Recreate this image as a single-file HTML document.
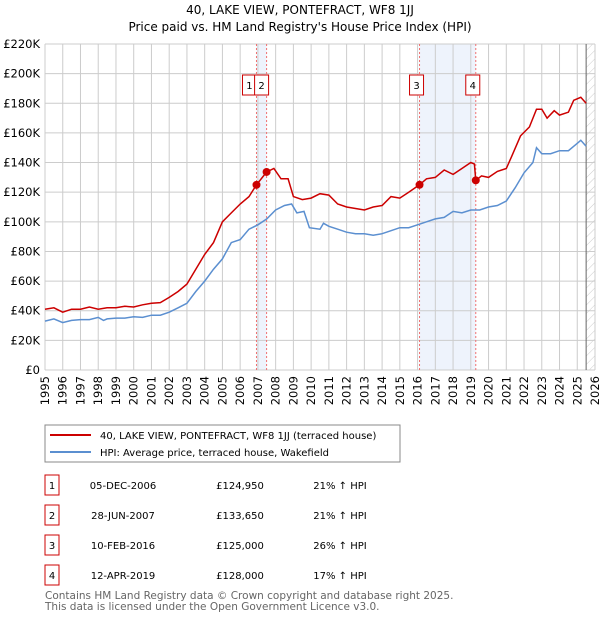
<!DOCTYPE html>
<html><head><meta charset="utf-8"><style>
body{margin:0;background:#fff;width:600px;height:620px;overflow:hidden}
svg{font-family:"DejaVu Sans","Liberation Sans",sans-serif}
</style></head><body>
<svg id="c" width="600" height="620" xmlns="http://www.w3.org/2000/svg">
<defs><pattern id="hatch" width="6" height="6" patternUnits="userSpaceOnUse" patternTransform="rotate(45)"><line x1="0" y1="0" x2="0" y2="6" stroke="#ccc" stroke-width="1"/></pattern></defs>
<text x="300" y="14" text-anchor="middle" font-size="12">40, LAKE VIEW, PONTEFRACT, WF8 1JJ</text>
<text x="300" y="31" text-anchor="middle" font-size="12">Price paid vs. HM Land Registry's House Price Index (HPI)</text>
<g id="grid"></g><g id="marks"></g><g id="axes"></g>
<rect x="45" y="425" width="355" height="37" fill="#fff" stroke="#888"/>
<line x1="50" y1="435" x2="91" y2="435" stroke="#cc0000" stroke-width="2"/>
<text x="100" y="439" font-size="10">40, LAKE VIEW, PONTEFRACT, WF8 1JJ (terraced house)</text>
<line x1="50" y1="452" x2="91" y2="452" stroke="#5b8fd0" stroke-width="2"/>
<text x="100" y="456" font-size="10">HPI: Average price, terraced house, Wakefield</text>
<g id="table" font-size="10"></g>
<text x="45" y="599" font-size="10.5" fill="#666">Contains HM Land Registry data © Crown copyright and database right 2025.</text>
<text x="45" y="610" font-size="10.5" fill="#666">This data is licensed under the Open Government Licence v3.0.</text>
</svg>
<script>
const hpiYears=[1995,1995.5,1996,1996.5,1997,1997.5,1998,1998.3,1998.5,1999,1999.5,2000,2000.5,2001,2001.5,2002,2002.5,2003,2003.5,2004,2004.5,2005,2005.5,2006,2006.5,2007,2007.5,2008,2008.5,2008.9,2009.2,2009.6,2009.9,2010.5,2010.7,2011,2011.5,2012,2012.5,2013,2013.5,2014,2014.5,2015,2015.5,2016,2016.5,2017,2017.5,2018,2018.5,2019,2019.5,2020,2020.5,2021,2021.5,2022,2022.5,2022.7,2023,2023.5,2024,2024.5,2025,2025.2,2025.5];
const hpiValues=[33,34.5,32,33.5,34,34,35.5,33.5,34.5,35,35,36,35.5,37,37,39,42,45,53,60,68,75,86,88,95,98,102,108,111,112,106,107,96,95,99,97,95,93,92,92,91,92,94,96,96,98,100,102,103,107,106,108,108,110,111,114,123,133,140,150,146,146,148,148,153,155,151];
const priceYears=[1995,1995.5,1996,1996.5,1997,1997.5,1998,1998.5,1999,1999.5,2000,2000.5,2001,2001.5,2002,2002.5,2003,2003.5,2004,2004.5,2005,2005.5,2006,2006.5,2006.92,2007.49,2007.9,2008.3,2008.7,2009.0,2009.5,2010,2010.5,2011,2011.5,2012,2012.5,2013,2013.5,2014,2014.5,2015,2015.5,2016.11,2016.5,2017,2017.5,2018,2018.5,2019,2019.2,2019.28,2019.6,2020,2020.5,2021,2021.3,2021.8,2022.3,2022.7,2023,2023.3,2023.7,2024,2024.5,2024.8,2025.2,2025.5];
const priceValues=[41,42,39,41,41,42.5,41,42,42,43,42.5,44,45,45.5,49,53,58,68,78,86,100,106,112,117,124.95,133.65,136,129,129,117,115,116,119,118,112,110,109,108,110,111,117,116,120,125,129,130,135,132,136,140,139,128,131,130,134,136,144,158,164,176,176,170,175,172,174,182,184,180];
const saleYears=[2006.92,2007.49,2016.11,2019.28];
const saleValues=[124.95,133.65,125,128];
const saleLabels=["1","2","3","4"];
const saleDates=["05-DEC-2006","28-JUN-2007","10-FEB-2016","12-APR-2019"];
const salePrices=["£124,950","£133,650","£125,000","£128,000"];
const salePct=["21% ↑ HPI","21% ↑ HPI","26% ↑ HPI","17% ↑ HPI"];
const yTicks=[0,20,40,60,80,100,120,140,160,180,200,220];
const xTicks=[1995,1996,1997,1998,1999,2000,2001,2002,2003,2004,2005,2006,2007,2008,2009,2010,2011,2012,2013,2014,2015,2016,2017,2018,2019,2020,2021,2022,2023,2024,2025,2026];
const X0=45,X1=595,Y0=370,Y1=44;
const x=v=>X0+(v-1995)/(2026-1995)*(X1-X0);
const y=v=>Y0-v/220*(Y0-Y1);
const NS="http://www.w3.org/2000/svg";
function mk(tag,attrs,parent,text){const e=document.createElementNS(NS,tag);for(const k in attrs)e.setAttribute(k,attrs[k]);if(text!==undefined)e.textContent=text;parent.appendChild(e);return e;}
const grid=document.getElementById('grid'),marks=document.getElementById('marks'),axes=document.getElementById('axes'),table=document.getElementById('table');
let r=mk('rect',{x:x(saleYears[0]),y:Y1,width:x(saleYears[1])-x(saleYears[0]),height:Y0-Y1,fill:'#eef3fc'},grid);


r=mk('rect',{x:x(saleYears[2]),y:Y1,width:x(saleYears[3])-x(saleYears[2]),height:Y0-Y1,fill:'#eef3fc'},grid);


r=mk('rect',{x:x(2025.5),y:Y1,width:X1-x(2025.5),height:Y0-Y1,fill:'url(#hatch)'},grid);


yTicks.forEach(t=>{
 const l=mk('line',{x1:X0,x2:X1,y1:y(t),y2:y(t),stroke:'#ccc'},grid);
 
 
 const tx=mk('text',{x:40,y:y(t)+4,'text-anchor':'end','font-size':'11.5'},axes,t===0?'£0':'£'+t+'K');
 
 
});
xTicks.forEach(t=>{
 const l=mk('line',{x1:x(t),x2:x(t),y1:Y1,y2:Y0,stroke:'#ccc'},grid);
 
 
 const tx=mk('text',{x:0,y:0,'text-anchor':'end','font-size':'11.5',transform:`translate(${x(t)+4},${Y0+6}) rotate(-90)`},axes,String(t));
 
 
});
let v=mk('line',{x1:x(2025.5),x2:x(2025.5),y1:Y1,y2:Y0,stroke:'#666'},grid);


saleYears.forEach((s,i)=>{
 const l=mk('line',{x1:x(s),x2:x(s),y1:Y1,y2:Y0,stroke:'#f07070','stroke-dasharray':'2,2'},grid);
 
 
});
const path=(xs,vs)=>xs.map((a,i)=>(i?'L':'M')+x(a).toFixed(1)+','+y(vs[i]).toFixed(1)).join('');
let p=mk('path',{d:path(hpiYears,hpiValues),fill:'none',stroke:'#5b8fd0','stroke-width':1.5},marks);


p=mk('path',{d:path(priceYears,priceValues),fill:'none',stroke:'#cc0000','stroke-width':1.5},marks);


const lblX=[x(saleYears[0])-7,x(saleYears[1])-5,x(saleYears[2])-3,x(saleYears[3])-3];
saleYears.forEach((s,i)=>{
 const c=mk('circle',{cx:x(s),cy:y(saleValues[i]),r:4,fill:'#cc0000'},marks);
 
 
 const g=mk('g',{},marks);
 
 
 mk('rect',{x:lblX[i]-7,y:75,width:14,height:20,fill:'#fff',stroke:'#cc0000'},g);
 mk('text',{x:lblX[i],y:89,'text-anchor':'middle','font-size':'10'},g,saleLabels[i]);
 const ry=475+i*30;
 const row=mk('g',{},table);
 
 
 mk('rect',{x:45,y:ry,width:14,height:20,fill:'#fff',stroke:'#cc0000'},row);
 mk('text',{x:52,y:ry+14,'text-anchor':'middle'},row,saleLabels[i]);
 mk('text',{x:123,y:ry+14,'text-anchor':'middle'},row,saleDates[i]);
 mk('text',{x:240,y:ry+14,'text-anchor':'middle'},row,salePrices[i]);
 mk('text',{x:340,y:ry+14,'text-anchor':'middle'},row,salePct[i]);
});
</script>
</body></html>
